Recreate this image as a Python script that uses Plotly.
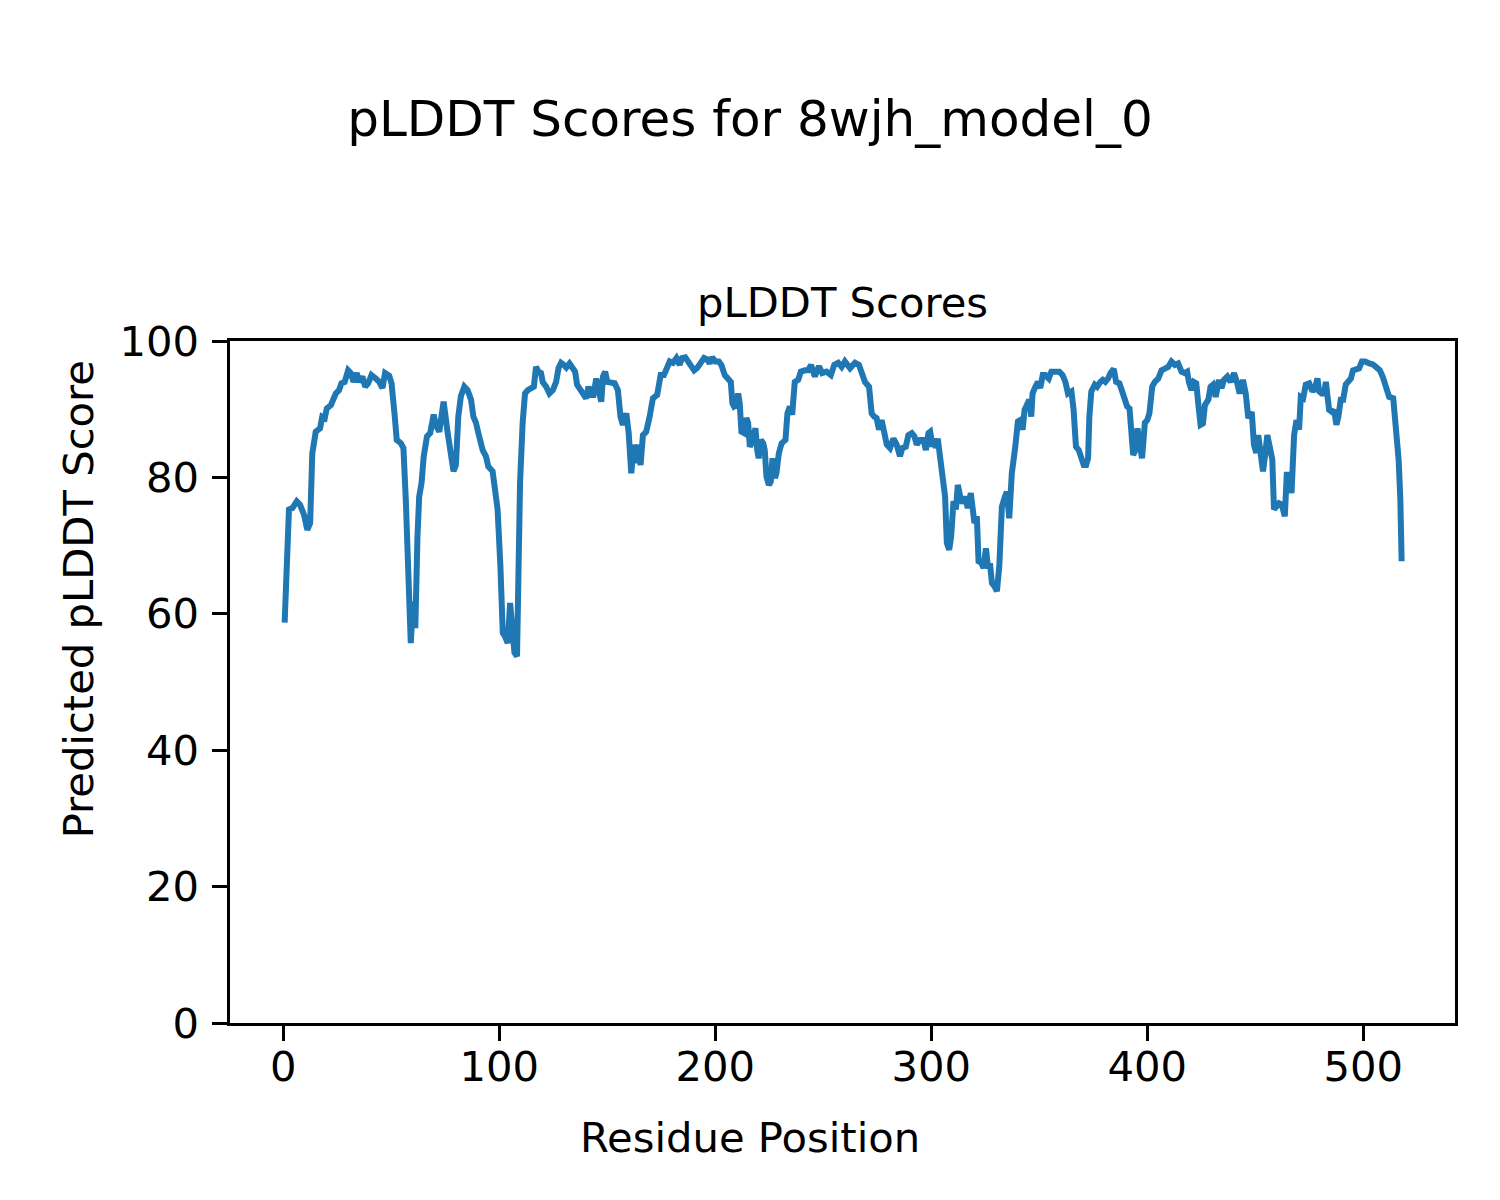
import plotly.graph_objects as go

# Residue positions and pLDDT values
residue = [
    0.6, 2.6, 4.2, 6.2, 7.7, 9.6, 11.1, 12.4, 13.4, 15.0, 17.0, 18.0, 19.2, 20.1, 22.0, 24.3, 25.8, 26.9, 28.4,
    30.0, 31.2, 32.5, 34.0, 35.1, 36.6, 37.9, 39.3, 40.8, 42.8, 44.4, 45.9, 47.1, 49.0, 50.1, 51.6, 52.5, 54.4,
    55.6, 56.7, 57.5, 58.3, 59.0, 60.1, 61.1, 62.1, 62.9, 64.0, 65.0, 66.5, 68.0, 69.6, 70.6, 72.2, 74.2,
    76.1, 77.6, 78.8, 79.9, 81.0, 82.2, 83.8, 85.3, 86.9, 88.0, 89.2, 90.3, 91.2, 92.3, 93.8, 94.9, 96.9, 98.0,
    99.2, 100.5, 101.6, 102.6, 103.9, 105.0, 105.9, 107.0, 108.2, 108.8, 109.6, 110.8, 111.9, 113.2, 114.7,
    116.0, 117.0, 118.1, 119.3, 120.1, 121.7, 123.2, 124.8, 126.3, 127.4, 128.6, 129.9, 131.0, 132.5, 134.0,
    135.1, 136.0, 137.6, 139.1, 140.2, 141.3, 142.5, 143.6, 144.9, 146.0, 147.2, 148.0, 149.0, 150.0, 151.8,
    153.4, 154.9, 156.1, 157.2, 158.8, 159.9, 161.1, 162.3, 163.4, 164.5, 165.4, 166.5, 168.0, 169.6, 171.1,
    173.1, 174.7, 176.2, 177.3, 178.9, 180.4, 182.0, 183.5, 184.6, 186.1, 187.7, 188.9, 190.2, 191.7, 193.2,
    194.8, 196.3, 197.4, 198.5, 200.0, 201.6, 202.8, 204.4, 205.9, 207.2, 207.9, 208.7, 209.8, 210.6, 211.3,
    212.1, 213.3, 214.4, 215.2, 216.0, 216.7, 217.5, 218.6, 219.4, 220.1, 221.1, 222.2, 222.9, 223.7, 224.8,
    225.7, 226.5, 227.6, 228.3, 229.4, 230.7, 232.5, 233.4, 234.5, 235.6, 236.8, 238.4, 239.6, 241.5, 243.0,
    244.3, 246.1, 248.0, 249.5, 251.5, 253.5, 255.1, 256.9, 258.5, 260.0, 262.4, 264.7, 266.5, 268.1, 269.3,
    271.2, 272.4, 273.6, 274.7, 275.8, 277.0, 278.3, 279.4, 280.9, 282.5, 284.0, 285.5, 286.6, 288.2, 289.4,
    291.0, 292.2, 293.3, 294.8, 296.4, 297.5, 298.7, 299.5, 300.6, 301.5, 302.1, 303.0, 304.1, 305.6, 306.4,
    307.2, 308.3, 309.2, 310.3, 311.4, 312.3, 313.4, 314.5, 315.7, 316.9, 318.3, 319.3, 320.0, 321.1, 321.9,
    323.1, 324.2, 325.3, 326.2, 327.3, 328.1, 329.3, 330.4, 331.5, 332.7, 333.9, 335.0, 336.1, 337.3, 338.9,
    340.1, 341.2, 342.3, 343.2, 344.3, 345.4, 346.3, 346.9, 348.2, 349.4, 350.5, 351.6, 352.8, 354.4, 355.6,
    357.4, 359.3, 360.8, 362.1, 363.3, 364.9, 365.9, 367.0, 368.3, 369.5, 370.6, 371.7, 372.6, 373.2, 374.1,
    375.7, 376.8, 378.3, 379.4, 380.6, 381.9, 383.0, 384.5, 385.6, 387.1, 388.4, 389.6, 390.7, 391.8, 392.7,
    393.5, 394.5, 395.5, 396.4, 397.6, 398.9, 400.0, 401.0, 402.3, 403.5, 405.1, 406.6, 408.2, 409.7, 411.2,
    412.8, 414.3, 415.9, 417.4, 418.5, 419.3, 420.5, 421.6, 422.7, 423.6, 424.7, 425.8, 426.7, 428.3, 429.3,
    430.4, 431.7, 433.2, 434.4, 435.5, 437.1, 438.6, 440.2, 441.7, 442.8, 444.3, 445.6, 446.8, 448.4, 449.4,
    450.5, 451.4, 452.5, 453.6, 454.5, 455.6, 456.7, 457.9, 458.7, 459.8, 461.0, 462.3, 463.7, 464.6, 465.7,
    466.8, 468.0, 469.1, 470.3, 471.1, 472.2, 473.4, 475.0, 476.5, 477.7, 478.8, 479.6, 480.8, 481.9, 482.7,
    483.4, 484.2, 485.5, 486.5, 487.6, 488.5, 489.6, 490.7, 491.9, 493.2, 494.3, 495.3, 496.9, 498.1, 499.4,
    500.9, 502.8, 504.3, 505.9, 507.7, 509.0, 510.5, 512.0, 513.9, 515.1, 516.4, 517.2, 517.8,
]
plddt = [
    58.7, 75.3, 75.5, 76.5, 76.0, 74.5, 72.3, 73.3, 83.5, 86.7, 87.2, 88.9, 88.7, 90.1, 90.6, 92.3, 92.8, 93.8, 94.0,
    95.7, 95.3, 94.0, 95.3, 94.0, 94.8, 93.3, 93.8, 95.0, 94.5, 94.0, 93.1, 95.3, 94.9, 93.8, 88.9, 85.5, 85.0,
    84.3, 76.7, 69.4, 64.5, 55.7, 61.8, 57.9, 71.3, 77.2, 79.2, 83.1, 86.0, 86.5, 89.2, 87.7, 86.7, 91.1,
    86.5, 83.1, 80.9, 81.8, 88.9, 91.9, 93.3, 92.8, 91.4, 88.9, 88.0, 86.5, 85.0, 84.0, 83.1, 81.6, 80.9, 78.2,
    75.3, 67.0, 57.2, 56.7, 55.7, 61.6, 56.7, 54.3, 53.8, 69.4, 79.2, 88.0, 92.3, 92.8, 93.1,
    93.3, 96.2, 95.5, 95.3, 94.0, 93.3, 92.3, 92.8, 94.0, 96.0, 96.8, 96.5, 96.1, 96.7, 96.0,
    95.5, 93.6, 92.8, 91.8, 91.6, 93.3, 92.1, 92.1, 94.5, 92.8, 91.1, 94.8, 95.5, 94.0, 94.0,
    93.8, 92.8, 88.9, 87.7, 89.4, 86.5, 80.6, 84.8, 82.1, 84.8, 81.8, 86.2, 86.7, 88.9, 91.6,
    92.1, 95.0, 95.0, 96.0, 97.0, 96.8, 97.5, 96.5, 97.5, 97.6, 96.8, 96.5, 95.7, 96.1, 96.7,
    97.5, 97.3, 96.7, 97.6, 97.0, 97.0, 96.5, 95.0, 94.5, 94.0, 90.9, 90.4, 90.6, 92.3, 90.9,
    86.7, 86.5, 88.7, 88.0, 84.5, 85.0, 86.0, 87.2, 84.0, 82.8, 85.5, 85.0, 84.0, 80.1, 78.9,
    79.4, 82.8, 79.9, 80.6, 83.5, 85.0, 85.5, 89.4, 90.4, 89.2, 94.0, 94.3, 95.5, 95.7, 95.7,
    96.5, 94.8, 96.3, 95.3, 95.5, 95.0, 96.5, 96.8, 96.2, 97.0, 96.0, 96.8, 96.5, 95.3, 94.0,
    93.3, 89.4, 88.9, 88.7, 87.0, 88.4, 86.5, 84.8, 84.3, 85.7, 84.8, 83.1, 84.3, 84.5, 86.2,
    86.5, 86.0, 84.8, 85.5, 85.5, 84.0, 86.5, 86.7, 84.5, 85.7, 84.3, 85.7, 83.1, 80.6, 77.2,
    70.4, 69.4, 71.3, 76.5, 75.3, 78.9, 77.2, 76.2, 77.2, 75.5, 77.7, 75.5, 73.3, 74.3, 67.7,
    67.5, 66.7, 69.6, 67.0, 67.0, 64.5, 64.0, 63.3, 67.0, 75.7, 77.0, 77.9, 74.0, 80.6, 84.5,
    88.2, 88.4, 87.0, 89.9, 90.9, 91.4, 88.9, 92.3, 93.3, 94.0, 93.1, 95.0, 95.0, 94.5, 95.5,
    95.5, 95.5, 95.0, 94.0, 92.3, 92.6, 89.9, 84.5, 84.0, 83.1, 81.8, 81.8, 82.8, 88.9, 92.6,
    93.6, 93.3, 94.0, 94.3, 94.0, 94.5, 95.3, 95.9, 94.0, 93.8, 92.6, 91.1, 90.4, 90.1, 86.5,
    83.3, 84.0, 87.2, 85.0, 82.8, 88.0, 88.4, 89.4, 93.3, 94.0, 94.5, 95.7, 96.1, 96.2, 97.0,
    96.5, 96.7, 95.5, 95.3, 95.5, 94.0, 92.8, 94.0, 93.8, 90.9, 87.7, 87.9, 90.6, 91.4, 93.3,
    93.6, 91.8, 94.3, 93.1, 94.3, 94.8, 94.0, 95.3, 93.8, 92.3, 94.3, 92.3, 88.7, 89.6, 84.8,
    83.6, 86.2, 84.0, 80.9, 83.1, 86.2, 84.5, 82.6, 75.3, 75.7, 76.2, 76.0, 74.3, 80.4, 80.4,
    77.7, 86.2, 88.4, 87.0, 91.8, 91.6, 93.6, 93.8, 92.6, 93.1, 94.5, 92.6, 92.3, 92.3, 94.0,
    91.4, 89.9, 89.6, 89.9, 87.7, 88.9, 91.4, 91.4, 93.6, 94.3, 94.5, 95.7, 96.0, 96.0, 97.0,
    97.0, 96.7, 96.6, 96.2, 95.7, 94.8, 93.1, 91.8, 91.6, 88.0, 82.6, 76.7, 67.7,
]

x_ticks = [0, 100, 200, 300, 400, 500]
y_ticks = [0, 20, 40, 60, 80, 100]

suptitle = "pLDDT Scores for 8wjh_model_0"
axes_title = "pLDDT Scores"
x_label = "Residue Position"
y_label = "Predicted pLDDT Score"

FONT = "DejaVu Sans"
OFF = 8  # page body margin offset
W, H = 1500 - OFF, 1200 - OFF
# plot area in reference (page) pixels
AL, AR, AT, AB = 229.5, 1455.0, 341.0, 1023.5
L, R, T, B = AL - OFF, W - (AR - OFF), AT - OFF, H - (AB - OFF)
pw, ph = AR - AL, AB - AT


def px(xp):
    return (xp - AL) / pw


def py(yp):
    return (AB - yp) / ph


fig = go.Figure()
fig.add_trace(go.Scatter(
    x=residue, y=plddt, mode="lines",
    line=dict(color="#1f77b4", width=6),
    hoverinfo="x+y", showlegend=False,
))

axis_common = dict(
    showgrid=False, zeroline=False,
    showline=True, linecolor="black", linewidth=3.2, mirror=True,
    ticks="outside", ticklen=14.5, tickwidth=3.2, tickcolor="black",
    tickfont=dict(family=FONT, size=41.7, color="black"),
)

fig.update_layout(
    width=W, height=H,
    margin=dict(l=L, r=R, t=T, b=B, autoexpand=False),
    paper_bgcolor="white", plot_bgcolor="white",
    font=dict(family=FONT, color="black"),
    title=dict(
        text=suptitle, x=(750 - OFF) / W, xref="container", xanchor="center",
        y=1 - (118 - OFF) / H, yref="container", yanchor="middle",
        font=dict(family=FONT, size=50, color="black"),
    ),
    xaxis=dict(range=[-24.7, 542.5], tickvals=x_ticks,
               ticktext=[str(v) for v in x_ticks], ticklabelstandoff=-10,
               **axis_common),
    yaxis=dict(range=[0, 100], tickvals=y_ticks,
               ticktext=[str(v) for v in y_ticks], ticklabelstandoff=5,
               **axis_common),
    annotations=[
        dict(text=axes_title, x=0.5, y=py(302), xref="paper", yref="paper",
             xanchor="center", yanchor="middle", showarrow=False,
             font=dict(family=FONT, size=41.7, color="black")),
        dict(text=x_label, x=px(750), y=py(1138), xref="paper", yref="paper",
             xanchor="center", yanchor="middle", showarrow=False,
             font=dict(family=FONT, size=41.7, color="black")),
        dict(text=y_label, x=px(78), y=py(600), xref="paper", yref="paper",
             xanchor="center", yanchor="middle", showarrow=False, textangle=-90,
             font=dict(family=FONT, size=41.7, color="black")),
    ],
)

fig.write_html("out.html")
